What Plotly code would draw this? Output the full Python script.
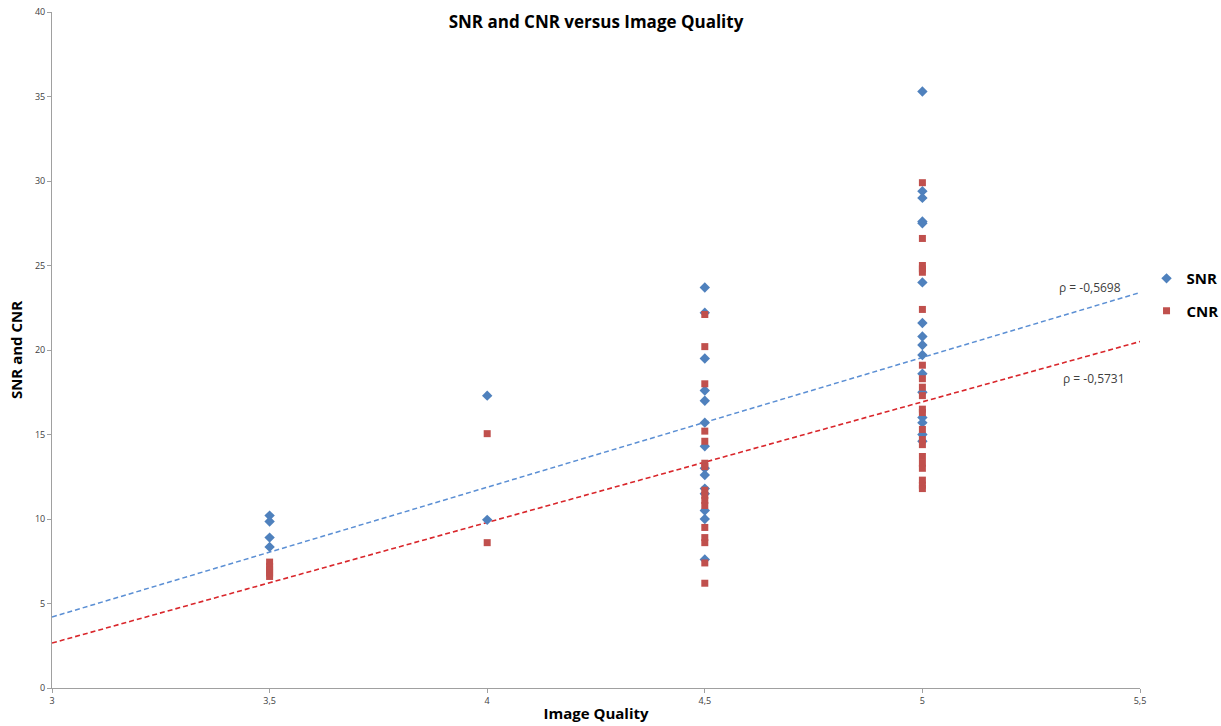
import plotly.graph_objects as go

# ---- data ----
snr_x = [3.5]*4 + [4]*2 + [4.5]*14 + [5]*16
snr_y = [10.2, 9.85, 8.9, 8.35,
         17.3, 9.95,
         23.7, 22.2, 19.5, 17.6, 17.0, 15.7, 14.3, 13.0, 12.6, 11.8, 11.5, 10.5, 10.0, 7.6,
         35.3, 29.4, 29.0, 27.6, 27.5, 24.0, 21.6, 20.8, 20.3, 19.7, 18.6, 17.5, 16.0, 15.7, 15.0, 14.6]
cnr_x = [3.5]*5 + [4]*2 + [4.5]*16 + [5]*21
cnr_y = [7.45, 7.2, 7.0, 6.8, 6.6,
         15.05, 8.6,
         22.1, 20.2, 18.0, 15.2, 14.6, 13.3, 13.1, 11.7, 11.4, 11.1, 10.8, 9.5, 8.9, 8.6, 7.4, 6.2,
         29.9, 26.6, 25.0, 24.8, 24.6, 22.4, 19.1, 18.3, 17.8, 17.3, 16.5, 16.3, 15.3, 14.7, 14.4,
         13.7, 13.3, 13.0, 12.3, 12.0, 11.8]
trend_x = [3, 5.5]
snr_trend_y = [4.2, 23.4]
cnr_trend_y = [2.66, 20.5]
snr_rho = "ρ = -0,5698"
cnr_rho = "ρ = -0,5731"
x_ticks = [3, 3.5, 4, 4.5, 5, 5.5]
y_ticks = [0, 5, 10, 15, 20, 25, 30, 35, 40]

SNR_C = "#4F81BD"
CNR_C = "#C0504D"
FONT = "Open Sans"

fig = go.Figure()
fig.add_trace(go.Scatter(x=trend_x, y=snr_trend_y, mode="lines",
                         line=dict(color="#5B8FD4", width=1.5, dash="5px,3px"),
                         showlegend=False, hoverinfo="skip"))
fig.add_trace(go.Scatter(x=trend_x, y=cnr_trend_y, mode="lines",
                         line=dict(color="#D9262B", width=1.6, dash="5px,3px"),
                         showlegend=False, hoverinfo="skip"))
fig.add_trace(go.Scatter(x=snr_x, y=snr_y, mode="markers", name="<b>SNR</b>",
                         legendgroup="snr",
                         marker=dict(symbol="diamond", size=8, color=SNR_C)))
fig.add_trace(go.Scatter(x=cnr_x, y=cnr_y, mode="markers", name="<b>CNR</b>",
                         legendgroup="cnr",
                         marker=dict(symbol="square", size=7, color=CNR_C)))

fig.add_annotation(x=5.385, y=23.7, text=snr_rho, showarrow=False,
                   font=dict(family=FONT, size=12, color="#404040"))
fig.add_annotation(x=5.395, y=18.3, text=cnr_rho, showarrow=False,
                   font=dict(family=FONT, size=12, color="#404040"))

fig.update_layout(
    width=1221, height=726,
    margin=dict(l=52, r=81, t=12, b=38, autoexpand=False),
    paper_bgcolor="white", plot_bgcolor="white",
    separators=", ",
    title=dict(text="<b>SNR and CNR versus Image Quality</b>", x=0.5, xanchor="center",
               xref="paper", y=1 - 22/726, yref="container", yanchor="middle",
               font=dict(family=FONT, size=17, color="black")),
    legend=dict(x=1.006, xanchor="left", y=0.63, yanchor="top",
                font=dict(family=FONT, size=15, color="black"),
                bgcolor="rgba(0,0,0,0)", tracegroupgap=10, itemwidth=30),
    font=dict(family=FONT),
)
fig.update_xaxes(range=[3, 5.5], tickvals=x_ticks, showgrid=False, zeroline=False,
                 automargin=False,
                 showline=True, linecolor="#A0A0A0", linewidth=1,
                 ticks="outside", ticklen=4, tickcolor="#A0A0A0",
                 tickfont=dict(family=FONT, size=9, color="#404040"),
                 title=dict(text="<b>Image Quality</b>", standoff=2,
                            font=dict(family=FONT, size=15, color="black")))
fig.update_yaxes(range=[0, 40], tickvals=y_ticks, showgrid=False, zeroline=False,
                 automargin=False,
                 showline=True, linecolor="#A0A0A0", linewidth=1,
                 ticks="outside", ticklen=4, tickcolor="#A0A0A0",
                 tickfont=dict(family=FONT, size=9, color="#404040"),
                 title=dict(text="<b>SNR and CNR</b>", standoff=8,
                            font=dict(family=FONT, size=15, color="black")))

fig.write_html("out.html", config={"displayModeBar": False},
               post_script="document.body.style.margin='0';document.body.style.overflow='hidden';")
